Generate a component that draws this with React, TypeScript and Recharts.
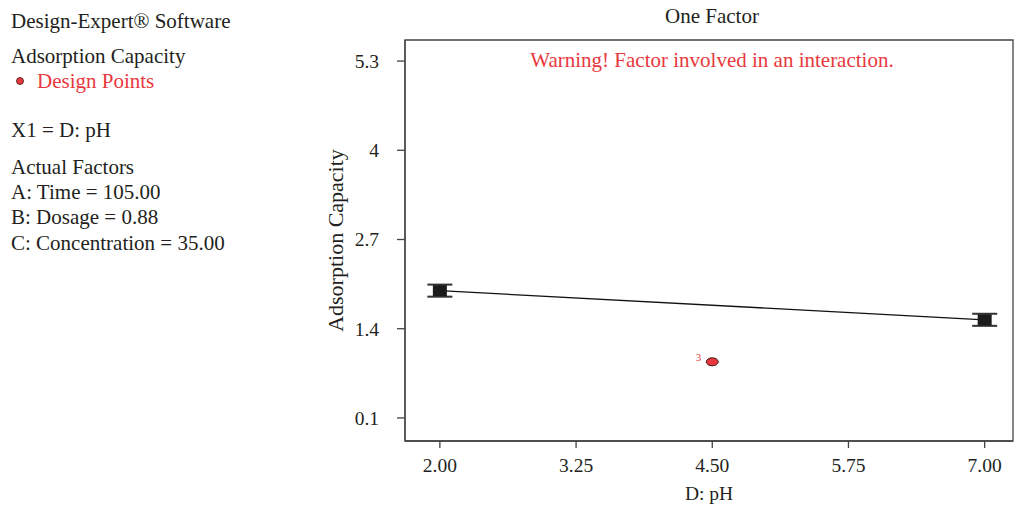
import React from 'react';
import { ComposedChart, Line, Scatter, XAxis, YAxis, ErrorBar, ReferenceArea } from 'recharts';

const phLevels = [2, 7];
const predicted = [1.955, 1.53];
const ciHalf = [0.088, 0.088];
const designPh = [4.5];
const designValues = [0.918];
const designCounts = [3];
const xTicks = [2, 3.25, 4.5, 5.75, 7];
const yTicks = [0.1, 1.4, 2.7, 4, 5.3];
const xDomain = [1.68, 7.26];
const yDomain = [-0.236, 5.607];

const lineData = phLevels.map((ph, i) => ({ ph, y: predicted[i], err: ciHalf[i] }));
const designData = designPh.map((ph, i) => ({ ph, y: designValues[i], n: designCounts[i] }));

const FONT = '"Liberation Serif", "DejaVu Serif", serif';
const TXT = '#231f20';
const RED = '#e8383d';

const SquareDot = (props: any) => {
  const { cx, cy, index } = props;
  if (cx == null || cy == null) return null;
  return <rect key={`sq-${index}`} x={cx - 7} y={cy - 5.5} width={14} height={11} fill="#1b1b1b" />;
};

const DesignShape = (props: any) => {
  const { cx, cy, payload } = props;
  return (
    <g>
      <ellipse cx={cx} cy={cy} rx={6} ry={4} fill={RED} stroke="#3a1a1a" strokeWidth={1} />
      <text x={cx - 11} y={cy - 0.5} fill={RED} fontSize={11} fontFamily={FONT} textAnchor="end">
        {payload && payload.n}
      </text>
    </g>
  );
};

const leftLines: { t: string; y: number; red?: boolean; bullet?: boolean }[] = [
  { t: 'Design-Expert® Software', y: 21 },
  { t: 'Adsorption Capacity', y: 56 },
  { t: 'Design Points', y: 81, red: true, bullet: true },
  { t: 'X1 = D: pH', y: 130 },
  { t: 'Actual Factors', y: 167 },
  { t: 'A: Time = 105.00', y: 192 },
  { t: 'B: Dosage = 0.88', y: 217 },
  { t: 'C: Concentration = 35.00', y: 243 },
];

export default function App() {
  return (
    <div style={{ position: 'fixed', left: 0, top: 0, width: 1014, height: 506, background: '#fff', fontFamily: FONT }}>
      <svg width={1014} height={506} style={{ position: 'absolute', left: 0, top: 0 }}>
        {leftLines.map((l) => (
          <g key={l.t}>
            {l.bullet && <circle cx={20} cy={l.y} r={3.5} fill={RED} stroke="#3a1a1a" strokeWidth={0.8} />}
            <text x={l.bullet ? 37 : 11} y={l.y} dominantBaseline="central" fontSize={21} fill={l.red ? RED : TXT} fontFamily={FONT}>
              {l.t}
            </text>
          </g>
        ))}
        <text x={712} y={16} textAnchor="middle" dominantBaseline="central" fontSize={21} fill={TXT} fontFamily={FONT}>One Factor</text>
        <text x={712} y={60} textAnchor="middle" dominantBaseline="central" fontSize={21} fill={RED} fontFamily={FONT}>Warning! Factor involved in an interaction.</text>
      </svg>
      <div style={{ position: 'absolute', left: 0, top: 0 }}>
        <ComposedChart width={1014} height={506} data={lineData} margin={{ top: 40, right: 1, bottom: 5, left: 305 }}>
          <ReferenceArea x1={xDomain[0]} x2={xDomain[1]} y1={yDomain[0]} y2={yDomain[1]} fill="none" stroke="#444" strokeWidth={1.3} ifOverflow="visible" />
          <XAxis
            type="number"
            dataKey="ph"
            domain={xDomain}
            ticks={xTicks}
            allowDataOverflow
            tickFormatter={(v: number) => v.toFixed(2)}
            tickSize={7}
            tickMargin={10}
            height={60}
            axisLine={{ stroke: '#444', strokeWidth: 1.3 }}
            tickLine={{ stroke: '#444', strokeWidth: 1.3 }}
            tick={{ fill: TXT, fontSize: 19.5, fontFamily: FONT }}
            label={{ value: 'D: pH', position: 'insideBottom', offset: 1, fill: TXT, fontSize: 19.5, fontFamily: FONT }}
          />
          <YAxis
            type="number"
            dataKey="y"
            domain={yDomain}
            ticks={yTicks}
            allowDataOverflow
            tickFormatter={(v: number) => String(v)}
            tickSize={8}
            tickMargin={18}
            width={100}
            axisLine={{ stroke: '#444', strokeWidth: 1.3 }}
            tickLine={{ stroke: '#444', strokeWidth: 1.3 }}
            tick={{ fill: TXT, fontSize: 19.5, fontFamily: FONT }}
            label={{ value: 'Adsorption Capacity', angle: -90, position: 'insideLeft', offset: 30, fill: TXT, fontSize: 22, fontFamily: FONT, style: { textAnchor: 'middle' } }}
          />
          <Line
            type="linear"
            dataKey="y"
            stroke="#111"
            strokeWidth={1.3}
            isAnimationActive={false}
            dot={SquareDot}
            activeDot={false}
          >
            <ErrorBar dataKey="err" width={12.5} stroke="#333" strokeWidth={2} direction="y" />
          </Line>
          <Scatter data={designData} dataKey="y" shape={DesignShape} isAnimationActive={false} />
        </ComposedChart>
      </div>
    </div>
  );
}
